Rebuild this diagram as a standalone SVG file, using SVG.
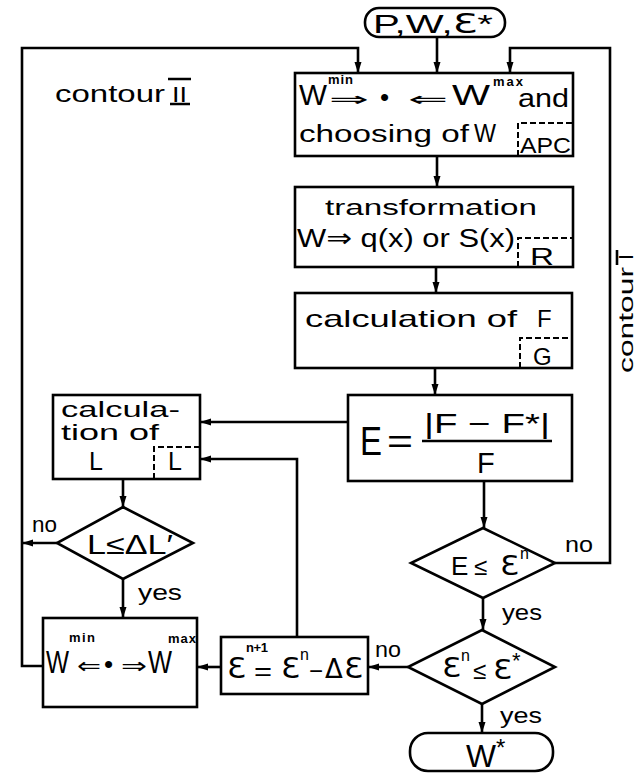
<svg xmlns="http://www.w3.org/2000/svg" width="637" height="775" viewBox="0 0 637 775">
<style>
.box{fill:#fff;stroke:#000;stroke-width:2.6}
.ln{fill:none;stroke:#000;stroke-width:2.6}
.tag{fill:none;stroke:#000;stroke-width:2;stroke-dasharray:6 3}
text{font-family:"Liberation Sans","DejaVu Sans",sans-serif;fill:#000}
.ep{font-family:"DejaVu Sans","Liberation Sans",sans-serif}
.lbl{font-size:22px}
.sup{font-size:13px;font-weight:bold}
</style>
<defs>
<marker id="ah" markerUnits="userSpaceOnUse" markerWidth="12" markerHeight="10" refX="11" refY="5" orient="auto">
<path d="M0,1.5 L11,5 L0,8.5 z" fill="#000"/>
</marker>
</defs>
<rect width="637" height="775" fill="#fff"/>

<g id="connectors">
<path class="ln" d="M437,37 V73" marker-end="url(#ah)"/>
<path class="ln" d="M43,666 H22 V48 H358 V73" marker-end="url(#ah)"/>
<path class="ln" d="M555,563 H610 V48 H510 V73" marker-end="url(#ah)"/>
<path class="ln" d="M437,156 V187" marker-end="url(#ah)"/>
<path class="ln" d="M436,267 V293" marker-end="url(#ah)"/>
<path class="ln" d="M435,368 V395" marker-end="url(#ah)"/>
<path class="ln" d="M484,481 V528" marker-end="url(#ah)"/>
<path class="ln" d="M483,598 V630" marker-end="url(#ah)"/>
<path class="ln" d="M482,704 V733" marker-end="url(#ah)"/>
<path class="ln" d="M408,667 H368" marker-end="url(#ah)"/>
<path class="ln" d="M221,667 H197" marker-end="url(#ah)"/>
<path class="ln" d="M297,637 V459 H200" marker-end="url(#ah)"/>
<path class="ln" d="M348,422 H200" marker-end="url(#ah)"/>
<path class="ln" d="M123,479 V507" marker-end="url(#ah)"/>
<path class="ln" d="M123,579 V618" marker-end="url(#ah)"/>
<path class="ln" d="M57,543 H22" marker-end="url(#ah)"/>
</g>

<g id="labels">
<text class="lbl" x="565" y="552" textLength="28" lengthAdjust="spacingAndGlyphs">no</text>
<text class="lbl" x="502" y="620" textLength="40" lengthAdjust="spacingAndGlyphs">yes</text>
<text class="lbl" x="375" y="657" textLength="26" lengthAdjust="spacingAndGlyphs">no</text>
<text class="lbl" x="500" y="723" textLength="42" lengthAdjust="spacingAndGlyphs">yes</text>
<text class="lbl" x="32" y="532" textLength="25" lengthAdjust="spacingAndGlyphs">no</text>
<text class="lbl" x="138" y="600" textLength="44" lengthAdjust="spacingAndGlyphs">yes</text>
</g>

<g id="contour2">
<text x="55" y="102" font-size="24" textLength="110" lengthAdjust="spacingAndGlyphs">contour</text>
<text x="172" y="102" font-size="22" textLength="15" lengthAdjust="spacingAndGlyphs">II</text>
<path class="ln" d="M168,79 H191 M170,104 H190" stroke-width="2"/>
</g>

<g id="contour1" transform="translate(633,373) rotate(-90)">
<text x="0" y="0" font-size="21" textLength="106" lengthAdjust="spacingAndGlyphs">contour</text>
<text x="113" y="0" font-size="21">I</text>
<path class="ln" d="M108,-16 H123" stroke-width="2"/>
</g>

<g id="start">
<rect class="box" x="365" y="8" width="140" height="29" rx="14"/>
<text x="373" y="33" font-size="26" textLength="120" lengthAdjust="spacingAndGlyphs">P,W,<tspan class="ep">Ɛ</tspan>*</text>
</g>

<g id="apc">
<rect class="box" x="295" y="73" width="278" height="83"/>
<path class="tag" d="M518,156 V123 H573"/>
<text x="299" y="105" font-size="30" textLength="28" lengthAdjust="spacingAndGlyphs">W</text>
<text class="sup" x="328" y="84" textLength="25">min</text>
<text x="329" y="106" font-size="20" textLength="40" lengthAdjust="spacingAndGlyphs">⇒</text>
<text x="380" y="106" font-size="26">•</text>
<text x="408" y="106" font-size="20" textLength="40" lengthAdjust="spacingAndGlyphs">⇐</text>
<text x="452" y="105" font-size="30" textLength="38" lengthAdjust="spacingAndGlyphs">W</text>
<text class="sup" x="493" y="86" textLength="30">max</text>
<text x="518" y="107" font-size="25" textLength="51" lengthAdjust="spacingAndGlyphs">and</text>
<text x="299" y="142" font-size="23" textLength="170" lengthAdjust="spacingAndGlyphs">choosing of</text>
<text x="474" y="142" font-size="26" textLength="22" lengthAdjust="spacingAndGlyphs">W</text>
<text x="520" y="153" font-size="22" textLength="51" lengthAdjust="spacingAndGlyphs">APC</text>
</g>

<g id="transform">
<rect class="box" x="295" y="187" width="278" height="80"/>
<path class="tag" d="M518,267 V238 H573"/>
<text x="325" y="215" font-size="22" textLength="212" lengthAdjust="spacingAndGlyphs">transformation</text>
<text x="297" y="247" font-size="26" textLength="218" lengthAdjust="spacingAndGlyphs">W⇒ q(x) or S(x)</text>
<text x="530" y="265" font-size="24" textLength="24" lengthAdjust="spacingAndGlyphs">R</text>
</g>

<g id="calcF">
<rect class="box" x="295" y="293" width="277" height="75"/>
<path class="tag" d="M520,368 V338 H572"/>
<text x="305" y="327" font-size="24" textLength="212" lengthAdjust="spacingAndGlyphs">calculation of</text>
<text x="537" y="327" font-size="24">F</text>
<text x="533" y="365" font-size="24">G</text>
</g>

<g id="errorE">
<rect class="box" x="348" y="395" width="224" height="86"/>
<text x="360" y="455" font-size="40" textLength="22" lengthAdjust="spacingAndGlyphs">E</text>
<text x="387" y="453" font-size="34" textLength="26" lengthAdjust="spacingAndGlyphs">=</text>
<text x="424" y="433" font-size="27" textLength="126" lengthAdjust="spacingAndGlyphs">|F − F*|</text>
<line class="ln" x1="422" y1="441" x2="552" y2="441"/>
<text x="477" y="473" font-size="29">F</text>
</g>

<g id="calcL">
<rect class="box" x="53" y="395" width="147" height="84"/>
<path class="tag" d="M154,479 V447 H200"/>
<text x="61" y="417" font-size="22" textLength="119" lengthAdjust="spacingAndGlyphs">calcula-</text>
<text x="61" y="440" font-size="22" textLength="98" lengthAdjust="spacingAndGlyphs">tion of</text>
<text x="89" y="470" font-size="25">L</text>
<text x="168" y="470" font-size="25">L</text>
</g>

<g id="checkL">
<polygon class="box" points="123,507 193,543 123,579 57,543"/>
<text x="87" y="554" font-size="27" textLength="86" lengthAdjust="spacingAndGlyphs">L≤ΔL′</text>
</g>

<g id="widen">
<rect class="box" x="43" y="618" width="154" height="89"/>
<text x="46" y="673" font-size="32" textLength="23" lengthAdjust="spacingAndGlyphs">W</text>
<text class="sup" x="69" y="642" textLength="26">min</text>
<text x="77" y="673" font-size="21" textLength="24" lengthAdjust="spacingAndGlyphs">⇐</text>
<text x="104" y="673" font-size="26">•</text>
<text x="121" y="673" font-size="21" textLength="26" lengthAdjust="spacingAndGlyphs">⇒</text>
<text x="148" y="673" font-size="32" textLength="24" lengthAdjust="spacingAndGlyphs">W</text>
<text class="sup" x="168" y="643" textLength="28">max</text>
</g>

<g id="decEps">
<rect class="box" x="221" y="637" width="147" height="57"/>
<text class="ep" x="227" y="678" font-size="28" textLength="19" lengthAdjust="spacingAndGlyphs">Ɛ</text>
<text class="sup" x="246" y="652" textLength="22">n+1</text>
<text x="254" y="680" font-size="26" textLength="18" lengthAdjust="spacingAndGlyphs">=</text>
<text class="ep" x="281" y="678" font-size="28" textLength="19" lengthAdjust="spacingAndGlyphs">Ɛ</text>
<text x="300" y="660" font-size="16">n</text>
<text x="309" y="679" font-size="24">−</text>
<text class="ep" x="325" y="678" font-size="26">Δ</text>
<text class="ep" x="344" y="678" font-size="28" textLength="19" lengthAdjust="spacingAndGlyphs">Ɛ</text>
</g>

<g id="checkE">
<polygon class="box" points="483,528 555,563 483,598 411,563"/>
<text x="451" y="575" font-size="26">E</text>
<text x="474" y="575" font-size="24">≤</text>
<text class="ep" x="500" y="575" font-size="26" textLength="19" lengthAdjust="spacingAndGlyphs">Ɛ</text>
<text x="520" y="559" font-size="16">n</text>
</g>

<g id="checkEps">
<polygon class="box" points="482,630 555,667 482,704 408,667"/>
<text class="ep" x="442" y="677" font-size="26" textLength="19" lengthAdjust="spacingAndGlyphs">Ɛ</text>
<text x="461" y="661" font-size="16">n</text>
<text x="473" y="679" font-size="24">≤</text>
<text class="ep" x="493" y="679" font-size="26" textLength="19" lengthAdjust="spacingAndGlyphs">Ɛ</text>
<text x="512" y="668" font-size="22">*</text>
</g>

<g id="end">
<rect class="box" x="410" y="733" width="143" height="38" rx="18"/>
<text x="466" y="767" font-size="32" textLength="30" lengthAdjust="spacingAndGlyphs">W</text>
<text x="496" y="756" font-size="24">*</text>
</g>
</svg>
